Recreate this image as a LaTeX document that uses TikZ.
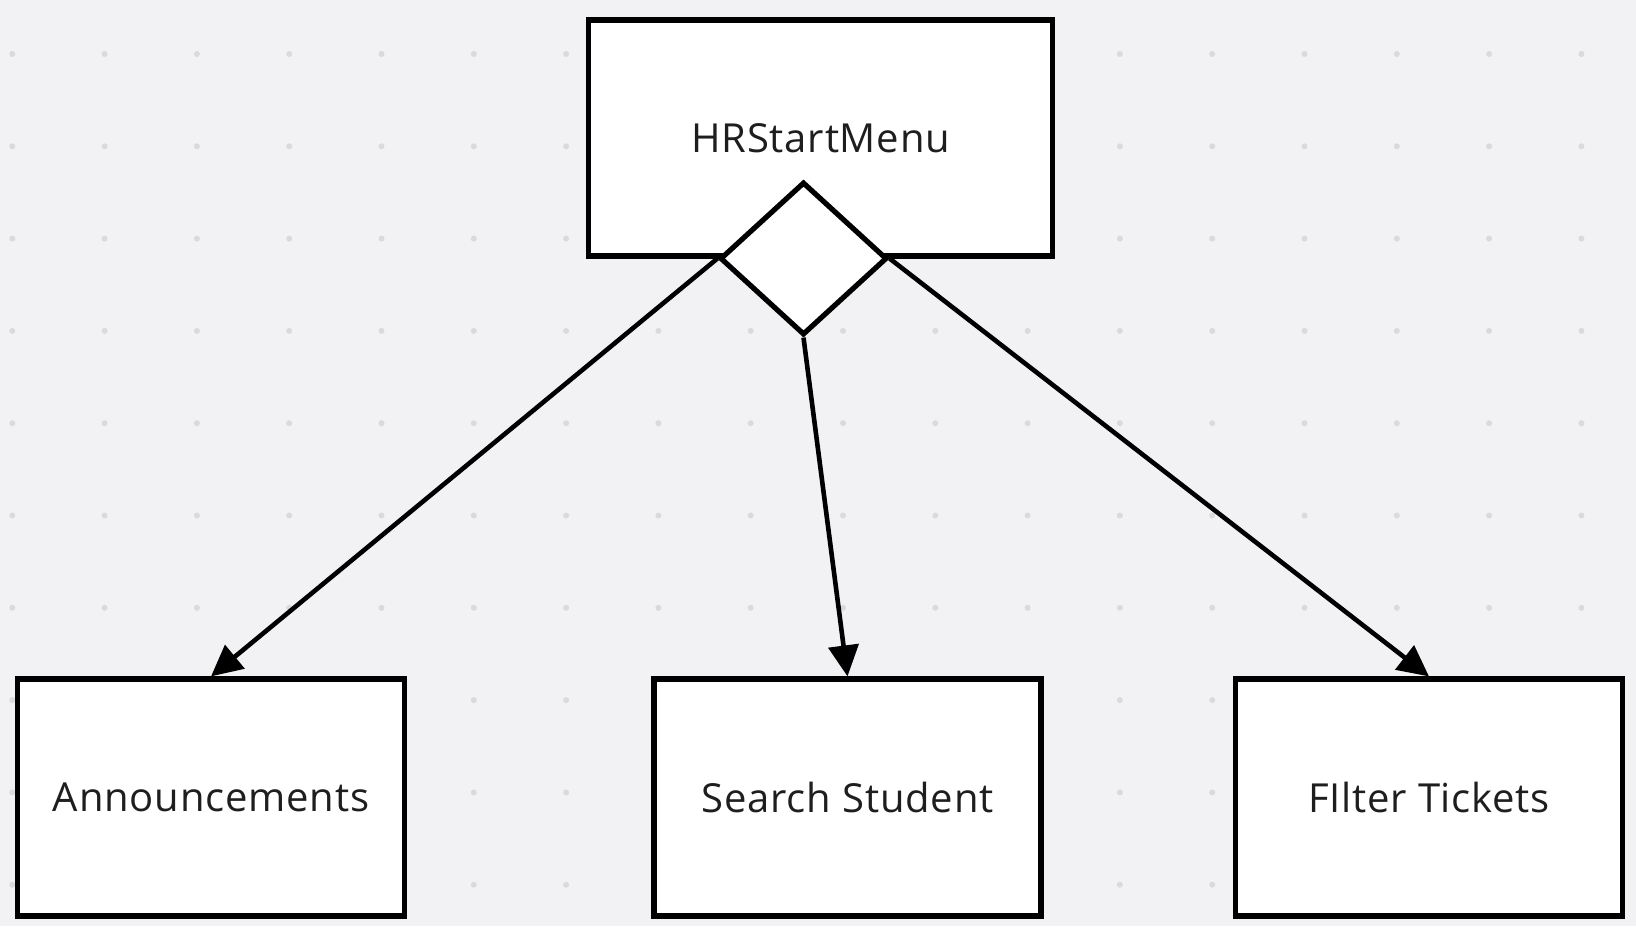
\documentclass[tikz,border=0pt]{standalone}
\usepackage{fontspec}
\setmainfont{Open Sans}[LetterSpace=2]
\usetikzlibrary{arrows.meta,shapes.geometric}
\definecolor{bg}{HTML}{F2F2F4}
\definecolor{dotc}{HTML}{DADADD}
\definecolor{txt}{HTML}{1E1E1E}
\begin{document}
\begin{tikzpicture}[x=0.5pt,y=-0.5pt,
  box/.style={draw=black, line width=2.6pt, fill=white, minimum width=193.5pt,
    minimum height=118.5pt, inner sep=0pt, font=\fontsize{20}{24}\selectfont, text=txt},
  topbox/.style={box, minimum width=232pt, minimum height=118pt},
  agg/.style={shape=diamond, draw=black, line width=2.6pt, fill=white,
    minimum width=83.5pt, minimum height=76.5pt, inner sep=0pt},
  conn/.style={line width=2.3pt, -{Triangle[length=15.5pt,width=15pt]}},
  dot/.style={fill=dotc, draw=none}]
\fill[bg] (0,0) rectangle (1636,926);
\useasboundingbox (0,0) rectangle (1636,926);
\foreach \i in {0,...,17}{
  \foreach \j in {0,...,9}{
    \fill[dot] ({12.3+92.3*\i},{54+92.3*\j}) circle (1.5pt);
  }
}
\node[topbox] (menu) at (820.75,138) {HRStartMenu};
\node[agg] (d) at (803.5,258.5) {};
\node[box] (ann) at (211,797.5) {Announcements};
\node[box] (search) at (847.5,797.5) {Search Student};
\node[box] (filter) at (1429,797.5) {FIlter Tickets};
\draw[conn] (d.west) -- (ann.north);
\draw[conn] (d.south) -- (search.north);
\draw[conn] (d.east) -- (filter.north);
\end{tikzpicture}
\end{document}
